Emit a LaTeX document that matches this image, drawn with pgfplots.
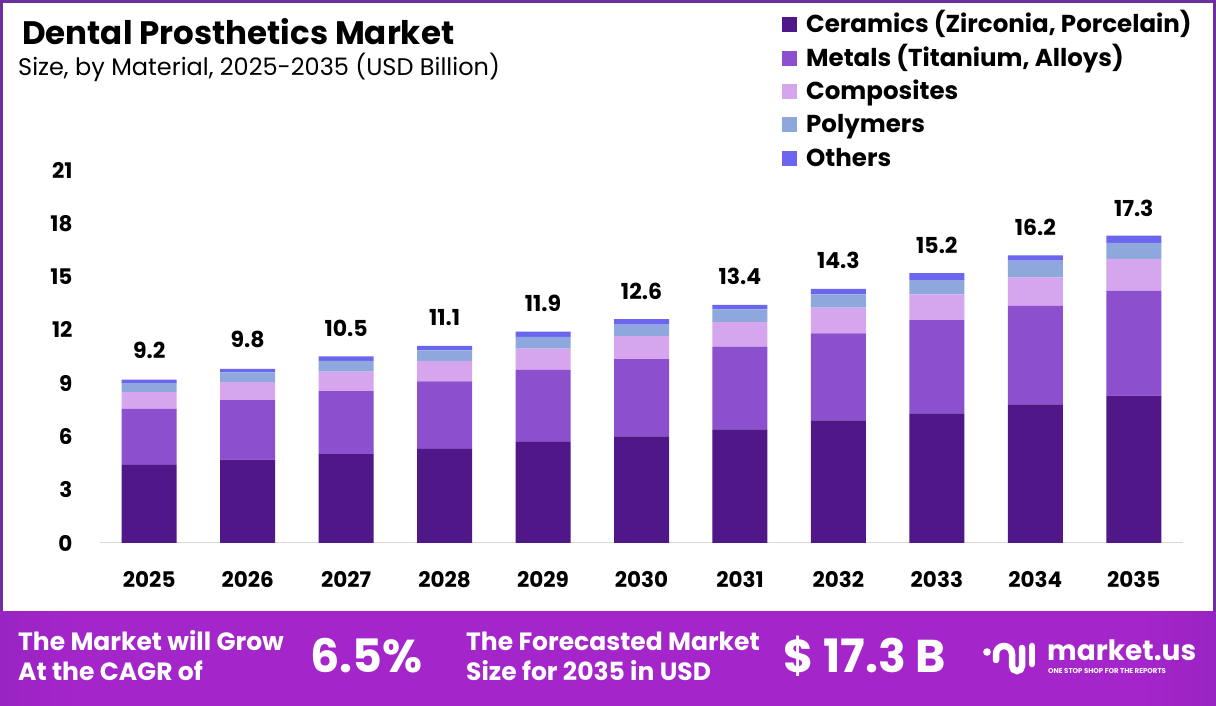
\documentclass[border=0pt]{standalone}
\usepackage{pgfplots}
\pgfplotsset{compat=1.18}
\usepackage{pgfplotstable}
\usepackage{fontspec}
\setmainfont{Poppins}
\definecolor{cer}{HTML}{4F1787}
\definecolor{met}{HTML}{8C4FCD}
\definecolor{com}{HTML}{D5A6EE}
\definecolor{pol}{HTML}{8EA8DD}
\definecolor{oth}{HTML}{6C66EE}
\definecolor{framec}{HTML}{6B2FA0}
\definecolor{banL}{HTML}{421686}
\definecolor{banM}{HTML}{A425CA}
\definecolor{banR}{HTML}{3D1480}
\pgfdeclarehorizontalshading{banner}{100bp}{color(0bp)=(banL); color(28bp)=(banM); color(72bp)=(banM); color(100bp)=(banR)}

\pgfplotstableread{
x C M Co P O T
0 4.4 3.15 0.95 0.5 0.2 9.2
1 4.7 3.35 1.0 0.55 0.2 9.8
2 5.0 3.55 1.1 0.6 0.25 10.5
3 5.3 3.8 1.15 0.6 0.25 11.1
4 5.7 4.05 1.2 0.65 0.3 11.9
5 6.0 4.35 1.3 0.65 0.3 12.6
6 6.4 4.65 1.4 0.7 0.25 13.4
7 6.9 4.9 1.45 0.75 0.3 14.3
8 7.3 5.25 1.45 0.8 0.4 15.2
9 7.8 5.55 1.6 0.95 0.3 16.2
10 8.3 5.9 1.8 0.9 0.4 17.3
}\datatable

\begin{document}
\begin{tikzpicture}[x=1pt,y=1pt]
\useasboundingbox (0,0) rectangle (1216,706);
\fill[white] (0,0) rectangle (1216,706);
\draw[framec, line width=3pt] (1.5,1.5) rectangle (1214.5,704.5);

\begin{axis}[
  at={(100pt,163pt)}, anchor=south west,
  scale only axis, width=1083pt, height=373pt,
  xmin=-0.5, xmax=10.5, ymin=0, ymax=21,
  ybar stacked, bar width=55pt,
  axis x line*=bottom, axis y line*=left,
  x axis line style={draw=black!15, line width=1pt},
  y axis line style={draw=none},
  xtick=data,
  xticklabels={2025,2026,2027,2028,2029,2030,2031,2032,2033,2034,2035},
  ytick={0,3,6,9,12,15,18,21},
  major tick length=0pt,
  tick label style={font=\bfseries\fontsize{21.5}{21.5}\selectfont},
  /pgf/number format/assume math mode=true,
  yticklabel style={anchor=east, xshift=-24pt},
  xticklabel style={yshift=-25pt},
  clip=false,
]
\addplot[fill=cer, draw=none] table[x=x, y=C] {\datatable};
\addplot[fill=met, draw=none] table[x=x, y=M] {\datatable};
\addplot[fill=com, draw=none] table[x=x, y=Co] {\datatable};
\addplot[fill=pol, draw=none] table[x=x, y=P] {\datatable};
\addplot[fill=oth, draw=none,
  point meta=explicit symbolic,
  nodes near coords={\pgfplotspointmeta},
  nodes near coords style={anchor=south, yshift=19pt, text=black, font=\bfseries\fontsize{22}{22}\selectfont}
] table[x=x, y=O, meta=T] {\datatable};
\end{axis}

% title
\node[anchor=base west, inner sep=0pt] at (22,661) {\bfseries\fontsize{32.5}{32.5}\selectfont Dental Prosthetics Market};
\node[anchor=base west, inner sep=0pt] at (18,630) {\fontsize{24}{24}\selectfont Size, by Material, 2025-2035 (USD Billion)};

% legend
\foreach \c/\t [count=\i from 0] in {cer/{Ceramics (Zirconia, Porcelain)}, met/{Metals (Titanium, Alloys)}, com/Composites, pol/Polymers, oth/Others}{
  \fill[\c] (782,{706-25-7.5-33.3*\i}) rectangle ++(15,15);
  \node[anchor=base west, inner sep=0pt] at (806,{706-33-33.3*\i}) {\fontsize{24.5}{24.5}\selectfont\bfseries \t};
}

% banner
\shade[shading=banner] (0,0) rectangle (1216,94);
\begin{scope}[text=white]
\node[anchor=base west, inner sep=0pt] at (18,55) {\bfseries\fontsize{25}{25}\selectfont The Market will Grow};
\node[anchor=base west, inner sep=0pt] at (18,25) {\bfseries\fontsize{25}{25}\selectfont At the CAGR of};
\node[anchor=base west, inner sep=0pt] at (310,33) {\bfseries\fontsize{46}{46}\selectfont 6.5\%};
\node[anchor=base west, inner sep=0pt] at (466,55) {\bfseries\fontsize{25}{25}\selectfont The Forecasted Market};
\node[anchor=base west, inner sep=0pt] at (466,25) {\bfseries\fontsize{25}{25}\selectfont Size for 2035 in USD};
\node[anchor=base west, inner sep=0pt] at (783,33) {\bfseries\fontsize{46}{46}\selectfont \$ 17.3 B};
\node[anchor=base west, inner sep=0pt] at (1047,45) {\bfseries\fontsize{28}{28}\selectfont market.us};
\node[anchor=base west, inner sep=0pt] at (1048,32) {\bfseries\fontsize{7}{7}\selectfont ONE STOP SHOP FOR THE REPORTS};
\end{scope}
% logo icon
\fill[white] (987,54) circle (3.8);
\draw[white, line width=6.5pt, line cap=round] (996,46) -- (996,52) arc (180:0:8) -- (1012,40) arc (180:360:5) -- (1022,58);
\draw[white, line width=6.5pt, line cap=round] (1032,60) -- (1032,42);
\end{tikzpicture}
\end{document}
